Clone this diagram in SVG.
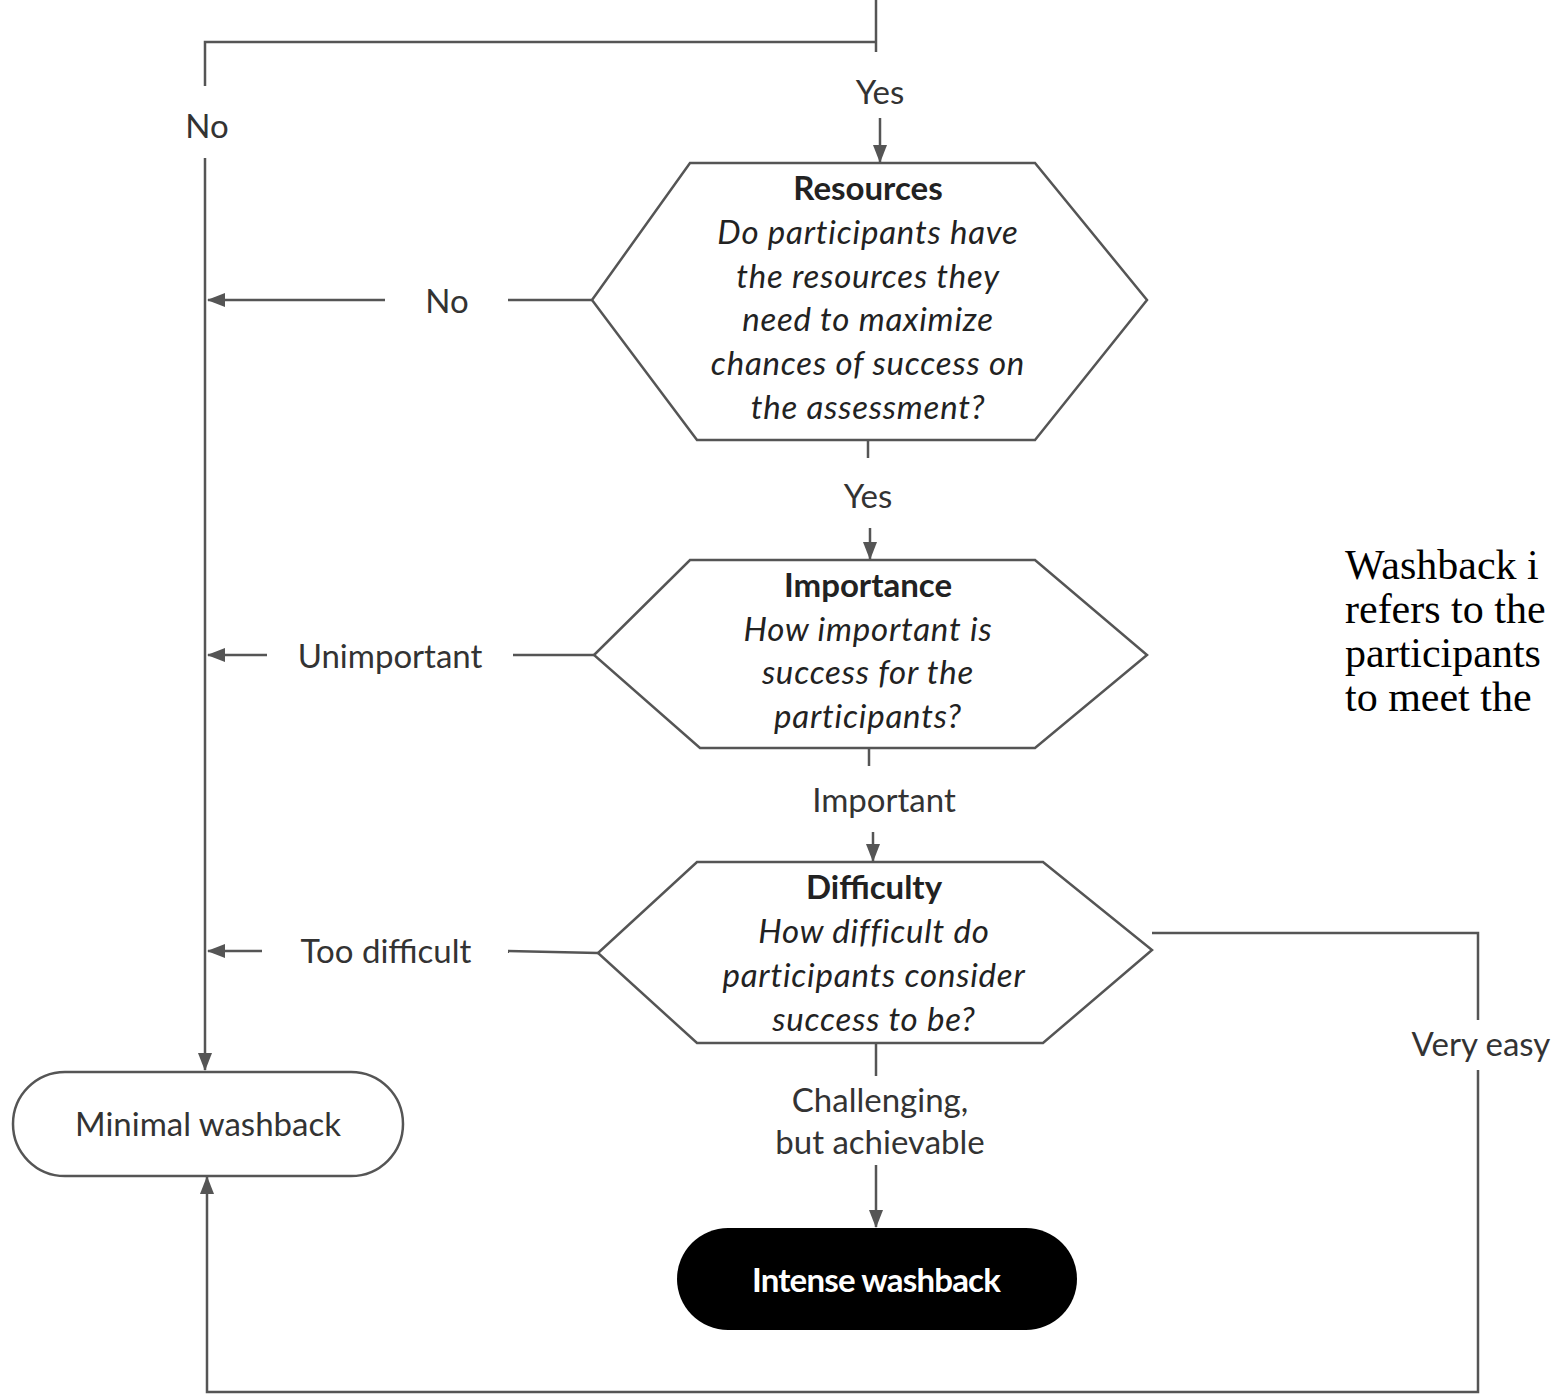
<svg xmlns="http://www.w3.org/2000/svg" width="1561" height="1395" viewBox="0 0 1561 1395">
<defs>
<marker id="arr" viewBox="0 0 18 14" refX="17" refY="7" markerWidth="18" markerHeight="14" orient="auto" markerUnits="userSpaceOnUse">
<path d="M0,0 L18,7 L0,14 z" fill="#555"/>
</marker>
<style>
.ln{fill:none;stroke:#555;stroke-width:2.5}
.shape{fill:#fff;stroke:#555;stroke-width:2.5}
.t{font-family:Lato,"Open Sans",sans-serif;font-size:33px;fill:#333;text-anchor:middle}
.b{font-weight:bold;fill:#222}
.i{font-style:italic;fill:#222;letter-spacing:0.8px}
.side{font-family:"Liberation Serif","Times New Roman",serif;font-size:42px;fill:#000}
</style>
</defs>
<rect width="1561" height="1395" fill="#fff"/>
<g id="connectors">
<polyline class="ln" points="876,0 876,52"/>
<polyline class="ln" points="876,42 205,42 205,86"/>
<line class="ln" x1="205" y1="158" x2="205" y2="1070" marker-end="url(#arr)"/>
<line class="ln" x1="880" y1="118" x2="880" y2="162" marker-end="url(#arr)"/>
<line class="ln" x1="592" y1="300" x2="508" y2="300"/>
<line class="ln" x1="385" y1="300" x2="208" y2="300" marker-end="url(#arr)"/>
<line class="ln" x1="868" y1="441" x2="868" y2="458"/>
<line class="ln" x1="870" y1="528" x2="870" y2="559" marker-end="url(#arr)"/>
<line class="ln" x1="594" y1="655" x2="513" y2="655"/>
<line class="ln" x1="267" y1="655" x2="208" y2="655" marker-end="url(#arr)"/>
<line class="ln" x1="869" y1="749" x2="869" y2="766"/>
<line class="ln" x1="873" y1="832" x2="873" y2="861" marker-end="url(#arr)"/>
<line class="ln" x1="598" y1="953" x2="508" y2="951"/>
<line class="ln" x1="262" y1="951" x2="208" y2="951" marker-end="url(#arr)"/>
<polyline class="ln" points="1152,933 1478,933 1478,1020"/>
<polyline class="ln" points="1478,1070 1478,1392 207,1392 207,1177" marker-end="url(#arr)"/>
<line class="ln" x1="876" y1="1044" x2="876" y2="1076"/>
<line class="ln" x1="876" y1="1165" x2="876" y2="1227" marker-end="url(#arr)"/>
<text class="t" x="880" y="104">Yes</text>
<text class="t" x="207" y="138">No</text>
<text class="t" x="447" y="313">No</text>
<text class="t" x="868" y="508">Yes</text>
<text class="t" x="390" y="668">Unimportant</text>
<text class="t" x="884" y="812">Important</text>
<text class="t" x="386" y="963">Too difficult</text>
<text class="t" x="1481" y="1056">Very easy</text>
<text class="t" x="880" y="1112">Challenging,</text>
<text class="t" x="880" y="1154">but achievable</text>
</g>
<g id="resources">
<polygon class="shape" points="690,163 1035,163 1147,300 1035,440 697,440 592,300"/>
<text class="t b" x="868" y="200">Resources</text>
<text class="t i" x="868" y="244">Do participants have</text>
<text class="t i" x="868" y="288">the resources they</text>
<text class="t i" x="868" y="331">need to maximize</text>
<text class="t i" x="868" y="375">chances of success on</text>
<text class="t i" x="868" y="419">the assessment?</text>
</g>
<g id="importance">
<polygon class="shape" points="690,560 1035,560 1147,655 1035,748 700,748 594,655"/>
<text class="t b" x="868" y="597">Importance</text>
<text class="t i" x="868" y="641">How important is</text>
<text class="t i" x="868" y="684">success for the</text>
<text class="t i" x="868" y="728">participants?</text>
</g>
<g id="difficulty">
<polygon class="shape" points="697,862 1043,862 1152,950 1043,1043 697,1043 598,953"/>
<text class="t b" x="874" y="899">Difficulty</text>
<text class="t i" x="874" y="943">How difficult do</text>
<text class="t i" x="874" y="987">participants consider</text>
<text class="t i" x="874" y="1031">success to be?</text>
</g>
<g id="minimal">
<rect class="shape" x="13" y="1072" width="390" height="104" rx="52"/>
<text class="t" x="208" y="1136">Minimal washback</text>
</g>
<g id="intense">
<rect x="677" y="1228" width="400" height="102" rx="51" fill="#000"/>
<text class="t b" x="876" y="1292" style="fill:#fff;letter-spacing:-0.8px">Intense washback</text>
</g>
<g id="note">
<text class="side" x="1345" y="579"><tspan x="1345" y="579">Washback i</tspan><tspan x="1345" y="623">refers to the</tspan><tspan x="1345" y="667">participants</tspan><tspan x="1345" y="711">to meet the</tspan></text>
</g>
</svg>
